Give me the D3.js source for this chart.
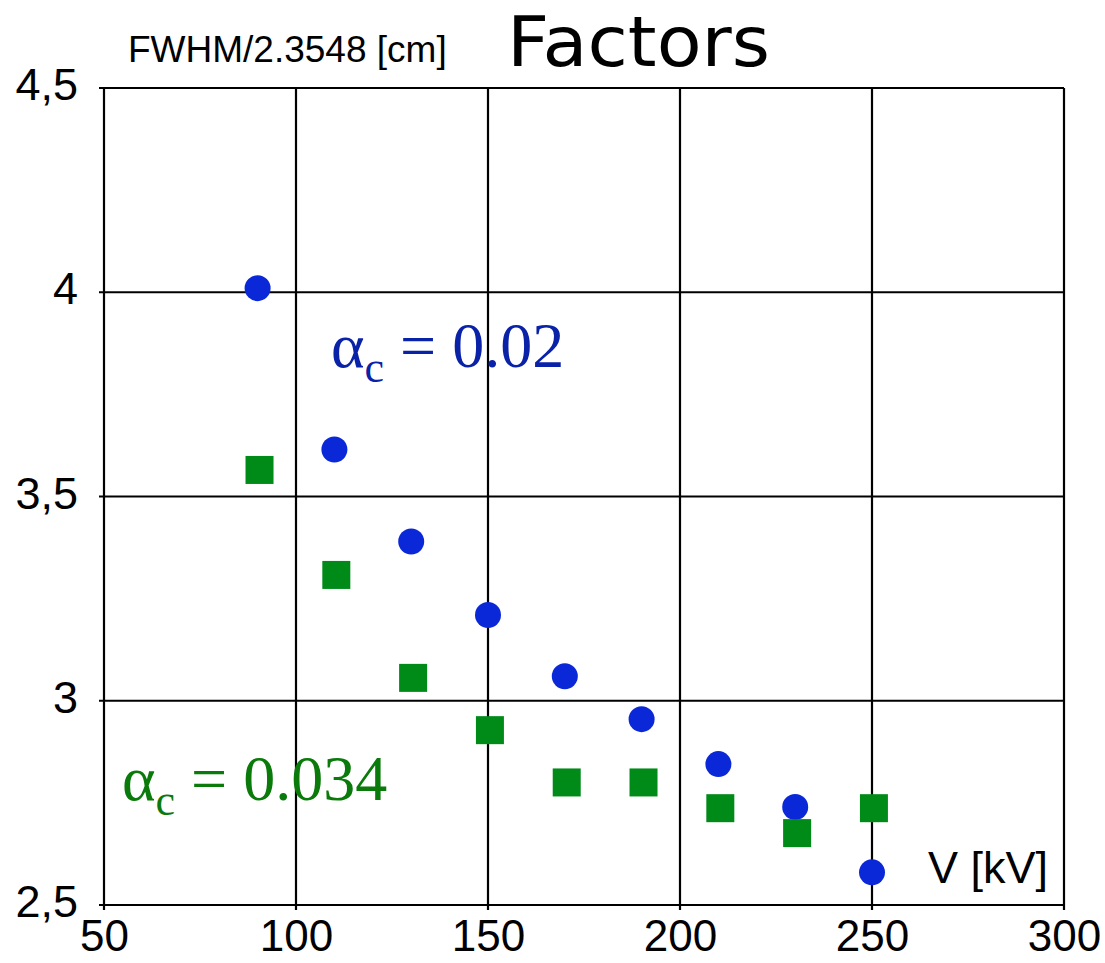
<!DOCTYPE html>
<html><head><meta charset="utf-8">
<script src="https://cdn.jsdelivr.net/npm/d3@7"></script>
<style>body{margin:0;background:#fff}</style>
</head><body>
<script>
const voltage = [90, 110, 130, 150, 170, 190, 210, 230, 250];
const blueValues = [4.01, 3.615, 3.39, 3.21, 3.06, 2.955, 2.845, 2.74, 2.58];
const greenVoltage = [90.5, 110.5, 130.5, 150.5, 170.5, 190.5, 210.5, 230.5, 250.5];
const greenValues = [3.565, 3.308, 3.056, 2.928, 2.80, 2.80, 2.737, 2.676, 2.737];
const xTicks = [50, 100, 150, 200, 250, 300];
const yTicks = [2.5, 3, 3.5, 4, 4.5];
const yTickLabels = ["2,5", "3", "3,5", "4", "4,5"];

const W = 1105, H = 963;
const svg = d3.select("body").append("svg").attr("width", W).attr("height", H);
const x = d3.scaleLinear().domain([50, 300]).range([104, 1064]);
const y = d3.scaleLinear().domain([2.5, 4.5]).range([905, 88]);

// grid
const g = svg.append("g");
g.selectAll(".vg").data(xTicks).join("line")
  .attr("x1", d => x(d)).attr("x2", d => x(d)).attr("y1", y(4.5)).attr("y2", y(2.5) + 5)
  .attr("stroke", "#000").attr("stroke-width", 2.2);
g.selectAll(".hg").data(yTicks).join("line")
  .attr("x1", x(50) - 5).attr("x2", x(300)).attr("y1", d => y(d)).attr("y2", d => y(d))
  .attr("stroke", "#000").attr("stroke-width", 2.2);

// axes labels
const xAxis = d3.axisBottom(x).tickValues(xTicks).tickSize(0).tickPadding(15);
const xa = svg.append("g").attr("transform", `translate(0,${y(2.5)})`).call(xAxis);
xa.select(".domain").remove();
xa.selectAll("text").attr("font-family", "Liberation Sans, Arial, sans-serif").attr("font-size", 44).attr("fill", "#000");

const yAxis = d3.axisLeft(y).tickValues(yTicks).tickFormat((d, i) => yTickLabels[i]).tickSize(0).tickPadding(26);
const ya = svg.append("g").attr("transform", `translate(${x(50)},0)`).call(yAxis);
ya.select(".domain").remove();
ya.selectAll("text").attr("font-family", "Liberation Sans, Arial, sans-serif").attr("font-size", 45)
  .attr("dy", "0.26em").attr("fill", "#000");

// markers
svg.append("g").selectAll("circle").data(voltage).join("circle")
  .attr("cx", d => x(d)).attr("cy", (d, i) => y(blueValues[i])).attr("r", 13)
  .attr("fill", "#0a28d8");
const s = 28;
svg.append("g").selectAll("rect").data(greenVoltage).join("rect")
  .attr("x", d => x(d) - s / 2).attr("y", (d, i) => y(greenValues[i]) - s / 2)
  .attr("width", s).attr("height", s).attr("fill", "#008a18");

// texts
svg.append("text").attr("x", 128).attr("y", 62).text("FWHM/2.3548 [cm]")
  .attr("font-family", "Liberation Sans, Arial, sans-serif").attr("font-size", 37).attr("fill", "#000");
svg.append("text").attr("x", 507).attr("y", 66).text("Factors")
  .attr("font-family", "DejaVu Sans, sans-serif").attr("font-size", 70)
  .attr("textLength", 263).attr("lengthAdjust", "spacingAndGlyphs").attr("fill", "#000");
svg.append("text").attr("x", 1048).attr("y", 883).attr("text-anchor", "end").text("V [kV]")
  .attr("font-family", "Liberation Sans, Arial, sans-serif").attr("font-size", 45).attr("fill", "#000");

function alphaLabel(xp, yp, val, color) {
  const t = svg.append("text").attr("x", xp).attr("y", yp)
    .attr("font-family", "Liberation Serif, Times New Roman, serif").attr("font-size", 64).attr("fill", color);
  t.append("tspan").text("α");
  t.append("tspan").attr("font-size", 44).attr("dy", 15).text("c");
  t.append("tspan").attr("dy", -15).text(" = " + val);
}
alphaLabel(331, 367, "0.02", "#0a22a8");
alphaLabel(122, 800, "0.034", "#0a7a0a");
</script>
</body></html>
